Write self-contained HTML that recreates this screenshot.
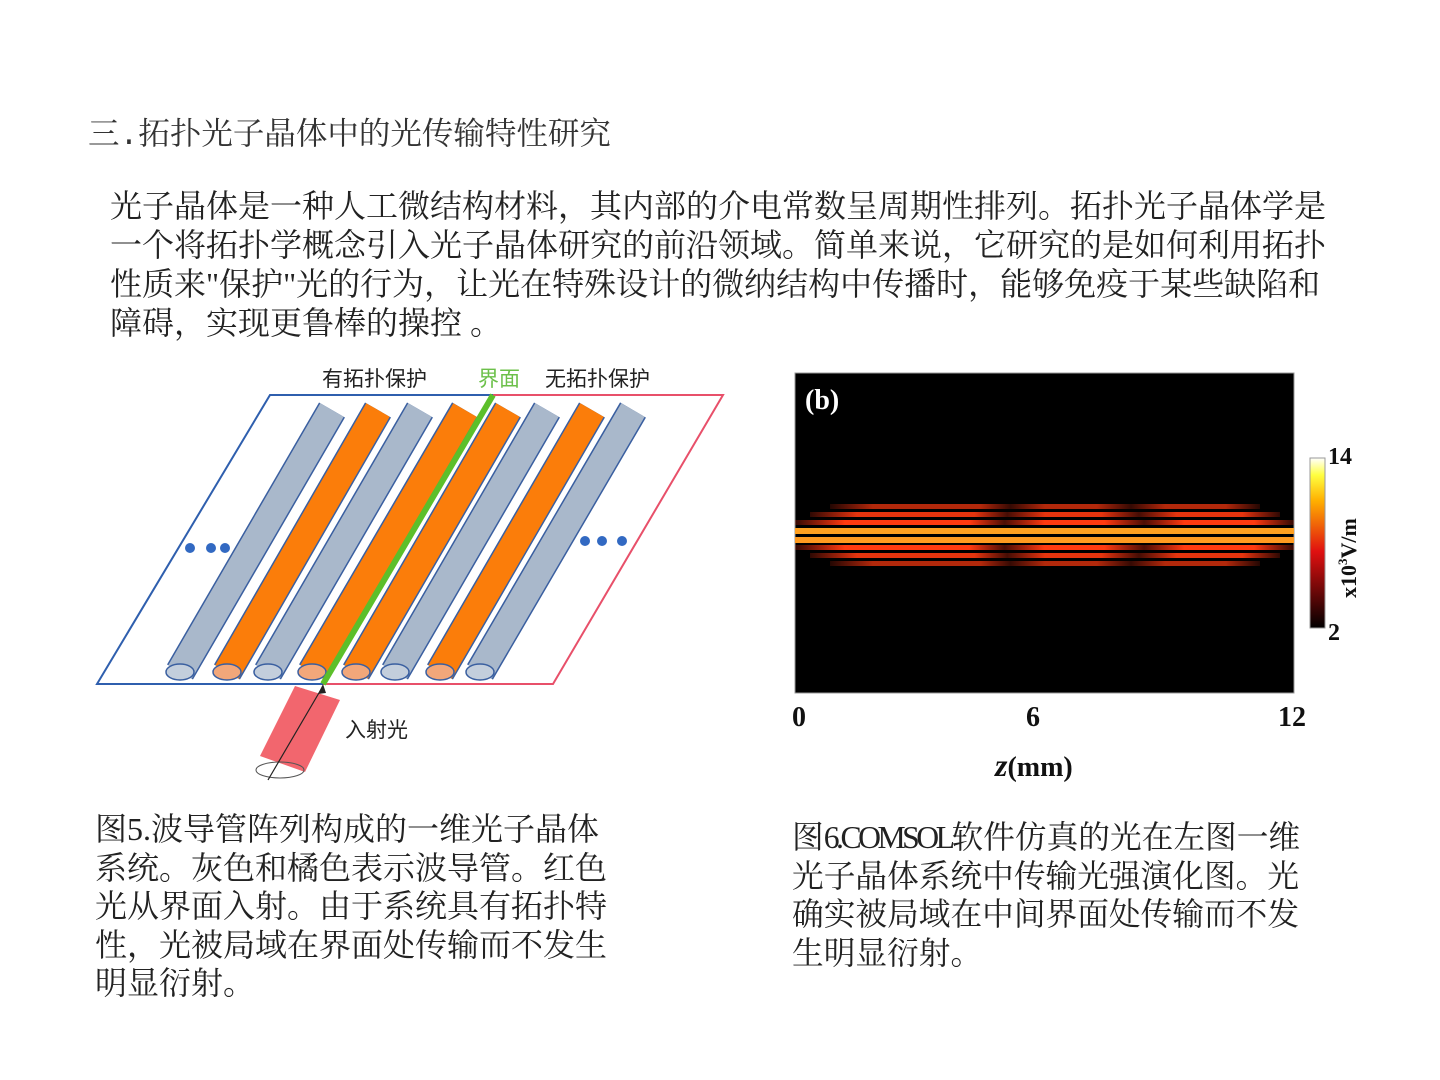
<!DOCTYPE html>
<html><head><meta charset="utf-8"><style>
body{margin:0;width:1440px;height:1080px;background:#fff;position:relative;overflow:hidden;font-family:"Liberation Serif","Noto Serif CJK SC",serif;color:#222}
.t{position:absolute;white-space:nowrap;line-height:1}
</style></head><body>
<div class="t" style="left:88px;top:121px;font-size:31.5px;color:#333;font-family:'Liberation Mono','Noto Serif CJK SC',serif">三.拓扑光子晶体中的光传输特性研究</div>
<div class="t" style="left:110px;top:187px;font-size:32px;line-height:39px">光子晶体是一种人工微结构材料，其内部的介电常数呈周期性排列。拓扑光子晶体学是<br>一个将拓扑学概念引入光子晶体研究的前沿领域。简单来说，它研究的是如何利用拓扑<br>性质来"保护"光的行为，让光在特殊设计的微纳结构中传播时，能够免疫于某些缺陷和<br>障碍，实现更鲁棒的操控 。</div>

<svg width="1440" height="1080" style="position:absolute;left:0;top:0" xmlns="http://www.w3.org/2000/svg">
<polyline points="493,395 723,395 553,684 323,684" fill="none" stroke="#e8506a" stroke-width="2"/>
<polyline points="493,395 270,395 97,684 323,684" fill="none" stroke="#2f5fae" stroke-width="2"/>
<g stroke-linecap="butt">
<g stroke="#3a5fa0" stroke-width="30"><line x1="332" y1="410" x2="180" y2="672"/><line x1="378" y1="410" x2="227" y2="672"/><line x1="420" y1="410" x2="268" y2="672"/><line x1="465" y1="410" x2="312" y2="672"/><line x1="508" y1="410" x2="356" y2="672"/><line x1="547" y1="410" x2="395" y2="672"/><line x1="592" y1="410" x2="440" y2="672"/><line x1="633" y1="410" x2="480" y2="672"/></g>
<g stroke-width="27"><line x1="332" y1="410" x2="180" y2="672" stroke="#a9b8cb"/><line x1="378" y1="410" x2="227" y2="672" stroke="#fb7d0a"/><line x1="420" y1="410" x2="268" y2="672" stroke="#a9b8cb"/><line x1="465" y1="410" x2="312" y2="672" stroke="#fb7d0a"/><line x1="508" y1="410" x2="356" y2="672" stroke="#fb7d0a"/><line x1="547" y1="410" x2="395" y2="672" stroke="#a9b8cb"/><line x1="592" y1="410" x2="440" y2="672" stroke="#fb7d0a"/><line x1="633" y1="410" x2="480" y2="672" stroke="#a9b8cb"/></g>
<g stroke="#3a5fa0" stroke-width="1.5"><ellipse cx="180" cy="672" rx="14" ry="8" fill="#c3cedc"/><ellipse cx="227" cy="672" rx="14" ry="8" fill="#f2a77a"/><ellipse cx="268" cy="672" rx="14" ry="8" fill="#c3cedc"/><ellipse cx="312" cy="672" rx="14" ry="8" fill="#f2a77a"/><ellipse cx="356" cy="672" rx="14" ry="8" fill="#f2a77a"/><ellipse cx="395" cy="672" rx="14" ry="8" fill="#c3cedc"/><ellipse cx="440" cy="672" rx="14" ry="8" fill="#f2a77a"/><ellipse cx="480" cy="672" rx="14" ry="8" fill="#c3cedc"/></g>
</g>
<line x1="493" y1="395" x2="323" y2="684" stroke="#5cbf2a" stroke-width="6"/>
<g fill="#3269c2"><circle cx="190" cy="548" r="5"/><circle cx="211" cy="548" r="5"/><circle cx="225" cy="548" r="5"/><circle cx="585" cy="541" r="5"/><circle cx="602" cy="541" r="5"/><circle cx="622" cy="541" r="5"/></g>
<polygon points="295,686 340,700 305,772 260,756" fill="#f04b55" opacity="0.85"/>
<ellipse cx="280" cy="770" rx="24" ry="8" fill="none" stroke="#555" stroke-width="1"/>
<line x1="268" y1="780" x2="323" y2="686" stroke="#222" stroke-width="1.2"/>
<polygon points="323,684 318,694 326,693" fill="#222"/>
<text x="322" y="386" font-size="21" fill="#222" font-family="Liberation Sans,Noto Sans CJK SC,sans-serif">有拓扑保护</text>
<text x="478" y="386" font-size="21" fill="#6cc04a" font-family="Liberation Sans,Noto Sans CJK SC,sans-serif">界面</text>
<text x="545" y="386" font-size="21" fill="#222" font-family="Liberation Sans,Noto Sans CJK SC,sans-serif">无拓扑保护</text>
<text x="345" y="737" font-size="21" fill="#222" font-family="Liberation Sans,Noto Sans CJK SC,sans-serif">入射光</text>

<defs>
<linearGradient id="hb" x1="0" x2="1"><stop offset="0" stop-color="#ff3010" stop-opacity="0.2"/><stop offset="0.1" stop-color="#ff3a10"/><stop offset="0.35" stop-color="#ff3a10"/><stop offset="0.42" stop-color="#ff3010" stop-opacity="0.3"/><stop offset="0.5" stop-color="#ff3a10"/><stop offset="0.62" stop-color="#ff3a10"/><stop offset="0.7" stop-color="#ff3010" stop-opacity="0.3"/><stop offset="0.78" stop-color="#ff3a10"/><stop offset="0.92" stop-color="#ff3a10"/><stop offset="1" stop-color="#ff3010" stop-opacity="0.2"/></linearGradient>
<linearGradient id="cb" x1="0" y1="1" x2="0" y2="0"><stop offset="0" stop-color="#000"/><stop offset="0.45" stop-color="#e01010"/><stop offset="0.75" stop-color="#ffb000"/><stop offset="0.9" stop-color="#ffff40"/><stop offset="1" stop-color="#fff"/></linearGradient>
</defs>
<rect x="795" y="373" width="499" height="320" fill="#000" stroke="#999" stroke-width="1"/>
<g fill="url(#hb)">
<rect x="830" y="504" width="430" height="5" opacity="0.7"/>
<rect x="810" y="512" width="470" height="5" opacity="0.9"/>
<rect x="795" y="520" width="499" height="5"/>
<rect x="795" y="528" width="499" height="6" fill="#ffa020"/>
<rect x="795" y="537" width="499" height="6" fill="#ff9a20"/>
<rect x="795" y="545" width="499" height="5"/>
<rect x="810" y="553" width="470" height="5" opacity="0.9"/>
<rect x="830" y="561" width="430" height="5" opacity="0.7"/>
</g>
<rect x="1310" y="458" width="15" height="170" fill="url(#cb)" stroke="#999" stroke-width="1"/>
<g font-weight="bold" font-size="28" fill="#111" font-family="Liberation Serif,serif">
<text x="805" y="409" fill="#fff">(b)</text>
<text x="792" y="726">0</text><text x="1026" y="726">6</text><text x="1278" y="726">12</text>
<text x="995" y="776"><tspan font-style="italic" font-size="32">z</tspan>(mm)</text>
<text x="1328" y="464" font-size="24">14</text><text x="1328" y="640" font-size="24">2</text>
<text transform="translate(1356,598) rotate(-90)" font-size="22">x10<tspan font-size="13" dy="-9">3</tspan><tspan dy="9">V/m</tspan></text>
</g>
</svg>

<div class="t" style="left:95px;top:810px;font-size:32px;line-height:38.5px">图5.波导管阵列构成的一维光子晶体<br>系统。灰色和橘色表示波导管。红色<br>光从界面入射。由于系统具有拓扑特<br>性，光被局域在界面处传输而不发生<br>明显衍射。</div>
<div class="t" style="left:792px;top:819px;font-size:31.7px;line-height:38.5px">图<span style="letter-spacing:-3.5px">6.COMSOL</span>软件仿真的光在左图一维<br>光子晶体系统中传输光强演化图。光<br>确实被局域在中间界面处传输而不发<br>生明显衍射。</div>
</body></html>
